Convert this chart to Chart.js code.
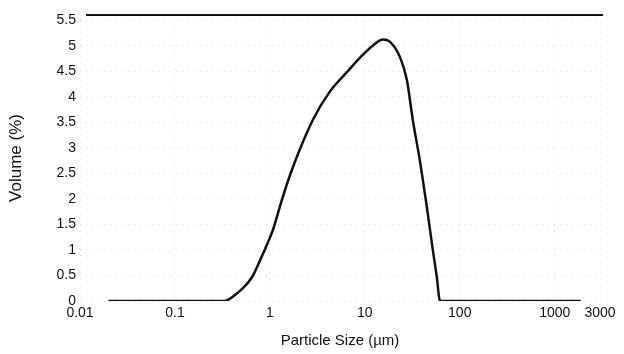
<!DOCTYPE html>
<html>
<head>
<meta charset="utf-8">
<script src="https://cdn.jsdelivr.net/npm/chart.js@4/dist/chart.umd.min.js"></script>
<style>
  html, body { margin: 0; padding: 0; background: #fff; }
  #wrap { width: 624px; height: 354px; }
</style>
</head>
<body>
<div id="wrap"><canvas id="c" width="624" height="354"></canvas></div>
<script>
// Particle size (µm) and volume (%)
const particleSize = [0.02, 0.33, 0.43, 0.52, 0.65, 0.79, 0.95, 1.08, 1.27, 1.55, 1.92, 2.84, 4.28, 6.47, 8.86, 12.1, 15.5, 18.3, 23.4, 27.7, 32.0, 37.9, 45.0, 52.0, 57.3, 61.5, 65.9, 1880];
const volumePct    = [0,    0,    0.12, 0.25, 0.47, 0.80, 1.14, 1.40, 1.84, 2.35, 2.82, 3.55, 4.10, 4.48, 4.76, 5.00, 5.12, 5.08, 4.78, 4.33, 3.55, 2.76, 1.84, 1.00, 0.47, 0.02, 0,    0];

const xTickValues = [0.01, 0.1, 1, 10, 100, 1000, 3000];
const xTickLabels = ['0.01', '0.1', '1', '10', '100', '1000', '3000'];
const yTickValues = [0, 0.5, 1, 1.5, 2, 2.5, 3, 3.5, 4, 4.5, 5, 5.5];
const yTickLabels = ['0', '0.5', '1', '1.5', '2', '2.5', '3', '3.5', '4', '4.5', '5', '5.5'];
const xRange = [0.01, 3000];
const yRange = [0, 5.6];

const FONT = '"Liberation Sans Narrow", "Arial Narrow", "Liberation Sans", Arial, sans-serif';

const topLine = {
  id: 'topLine',
  afterDraw(chart) {
    const { ctx, chartArea } = chart;
    ctx.save();
    ctx.strokeStyle = '#111';
    ctx.lineWidth = 2;
    ctx.beginPath();
    ctx.moveTo(chartArea.left + 6, chartArea.top);
    ctx.lineTo(chartArea.right + 3, chartArea.top);
    ctx.stroke();
    ctx.restore();
  }
};

new Chart(document.getElementById('c'), {
  type: 'line',
  data: {
    datasets: [{
      data: particleSize.map((s, i) => ({ x: s, y: volumePct[i] })),
      borderColor: '#111',
      borderWidth: 2.5,
      pointRadius: 0,
      fill: false,
      cubicInterpolationMode: 'monotone'
    }]
  },
  options: {
    responsive: false,
    animation: false,
    layout: { padding: { top: 15, right: 24, bottom: 0, left: 0 } },
    plugins: { legend: { display: false }, tooltip: { enabled: false } },
    scales: {
      x: {
        type: 'logarithmic',
        min: xRange[0],
        max: xRange[1],
        afterBuildTicks(scale) { scale.ticks = xTickValues.map(v => ({ value: v })); },
        afterFit(scale) { scale.height = 53; },
        ticks: {
          autoSkip: false,
          maxRotation: 0,
          padding: 4,
          color: '#111',
          font: { family: FONT, size: 14 },
          callback: (v) => { const i = xTickValues.indexOf(v); return i >= 0 ? xTickLabels[i] : ''; }
        },
        grid: { display: true, drawTicks: false, color: 'rgba(0,0,0,0.13)', lineWidth: 1 },
        border: { display: false, dash: [1, 5] },
        title: {
          display: true,
          text: 'Particle Size (µm)',
          color: '#111',
          font: { family: FONT, size: 15 },
          padding: { top: 8, bottom: 4 }
        }
      },
      y: {
        type: 'linear',
        min: yRange[0],
        max: yRange[1],
        afterBuildTicks(scale) { scale.ticks = yTickValues.map(v => ({ value: v })); },
        afterFit(scale) { scale.width = 80; },
        ticks: {
          padding: 4,
          color: '#111',
          font: { family: FONT, size: 14 },
          callback: (v) => { const i = yTickValues.indexOf(v); return i >= 0 ? yTickLabels[i] : ''; }
        },
        grid: { display: true, drawTicks: false, color: 'rgba(0,0,0,0.13)', lineWidth: 1 },
        border: { display: false, dash: [1, 5] },
        title: {
          display: true,
          text: 'Volume (%)',
          color: '#111',
          font: { family: '"Liberation Sans", Arial, sans-serif', size: 17 },
          padding: { top: 6, bottom: 4 }
        }
      }
    }
  },
  plugins: [topLine]
});
</script>
</body>
</html>
